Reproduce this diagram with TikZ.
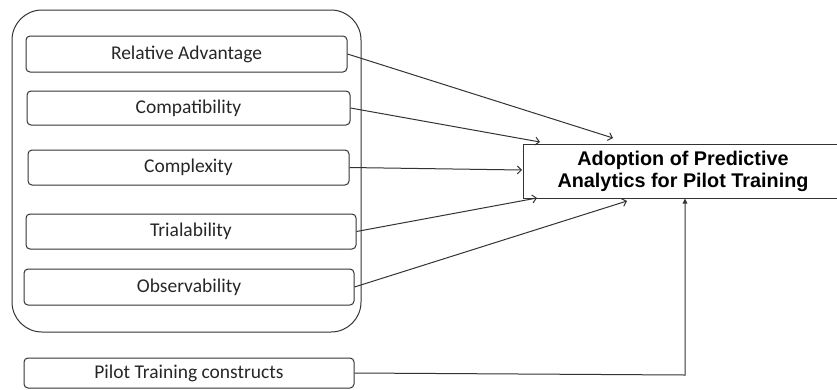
\documentclass[tikz,border=0pt]{standalone}
\usepackage{fontspec}
\setmainfont{Carlito}
\newfontfamily\arialfont{Liberation Sans}
\usetikzlibrary{arrows.meta,calc}
\begin{document}
\begin{tikzpicture}[x=1pt,y=-1pt,
  line/.style={draw=black!80,line width=1pt},
  cbox/.style={line,rounded corners=4pt,inner sep=0pt,font=\fontsize{19.5}{22}\selectfont,text=black!85},
  tbox/.style={line,inner sep=0pt,align=center,font=\arialfont\bfseries\fontsize{19.8}{22}\selectfont},
  arr/.style={line,-{Straight Barb[length=4pt,width=8pt]}},
  uparr/.style={line,-{Triangle[length=5pt,width=4.5pt]}}]
\useasboundingbox (0,0) rectangle (837,389);
\draw[line,rounded corners=30pt] (12,10) rectangle (361,332);
\node[cbox,minimum width=321pt,minimum height=36pt] (ra) at (186.5,54) {Relative Advantage};
\node[cbox,minimum width=323pt,minimum height=34pt] (cp) at (188.5,108) {Compatibility};
\node[cbox,minimum width=321pt,minimum height=35pt] (cx) at (188.5,167.5) {Complexity};
\node[cbox,minimum width=330pt,minimum height=35pt] (tr) at (191,231.5) {Trialability};
\node[cbox,minimum width=330pt,minimum height=36pt] (ob) at (189,287) {Observability};
\node[cbox,minimum width=330pt,minimum height=30pt] (pt) at (189,373) {Pilot Training constructs};
\node[tbox,minimum width=320pt,minimum height=54pt] (tg) at (683,171) {Adoption of Predictive\\Analytics for Pilot Training};
\coordinate (t1) at (613,138);
\coordinate (t2) at (540,142);
\coordinate (t3) at (522,170);
\coordinate (t4) at (537,198);
\coordinate (t5) at (627,201);
\coordinate (bend) at (685,375);
\draw[arr] (ra.east) -- (t1);
\draw[arr] (cp.east) -- (t2);
\draw[arr] (cx.east) -- (t3);
\draw[arr] (tr.east) -- (t4);
\draw[arr] (ob.east) -- (t5);
\draw[uparr] (pt.east) -- (bend) -- (bend |- tg.south);
\end{tikzpicture}
\end{document}
